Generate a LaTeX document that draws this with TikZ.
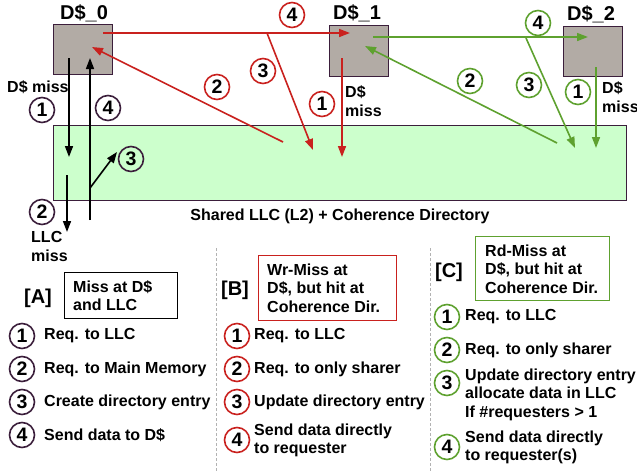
\documentclass[tikz,border=0pt]{standalone}
\usepackage{fontspec}
\setmainfont{Liberation Sans}
\usetikzlibrary{arrows.meta}
\definecolor{cred}{HTML}{C9211E}
\definecolor{cgreen}{HTML}{5EA12F}
\definecolor{cpurple}{HTML}{3B1E3B}
\definecolor{cgray}{HTML}{B2ABA5}
\definecolor{cllc}{HTML}{CCFFCC}
\begin{document}
\begin{tikzpicture}[x=1pt,y=-1pt,
  font=\bfseries\fontsize{16}{18.5}\selectfont,
  cache/.style={draw=cpurple, fill=cgray, line width=1.3pt, inner sep=0pt, anchor=north west, minimum width=59pt, minimum height=50pt},
  big/.style={font=\bfseries\fontsize{20}{22}\selectfont, inner sep=0pt},
  num/.style={circle, draw=#1, line width=1.6pt, minimum size=25pt, inner sep=0pt, font=\bfseries\fontsize{19.5}{19.5}\selectfont},
  arr/.style={line width=1.6pt, -{Triangle[length=11pt,width=8pt]}},
  item/.style={anchor=west, align=left, inner sep=0pt},
  hdr/.style={anchor=west, align=left, inner sep=0pt},
  sep/.style={draw=gray!60, line width=1pt, dash pattern=on 3pt off 2pt},
]
\useasboundingbox (0,0) rectangle (637,472);

% LLC
\node[draw=cpurple, fill=cllc, line width=1.3pt, anchor=north west, minimum width=573pt, minimum height=75pt, inner sep=0pt] (llc) at (53,125) {};
\node[inner sep=0pt] (llctxt) at (340,216) {Shared LLC (L2) + Coherence Directory};

% caches
\node[cache] (d0) at (53,24) {};
\node[cache, minimum height=51pt] (d1) at (329,25) {};
\node[cache] (d2) at (563,26) {};
\node[big] (l0) at (84,13) {D\$\_0};
\node[big] (l1) at (357,13) {D\$\_1};
\node[big] (l2) at (591,14) {D\$\_2};

% ---- black flow
\coordinate (b1s) at (69,58);   \coordinate (b1e) at (69,157);
\coordinate (b2s) at (67,175);  \coordinate (b2e) at (67,232);
\coordinate (b4s) at (90,220);  \coordinate (b4e) at (90,58);
\coordinate (b3s) at (90,188);  \coordinate (b3e) at (117,152);
\draw[arr] (b1s) -- (b1e);
\draw[arr] (b2s) -- (b2e);
\draw[arr] (b4s) -- (b4e);
\draw[arr] (b3s) -- (b3e);
\node[num=cpurple] (bn1) at (42,110) {1};
\node[num=cpurple] (bn4) at (108,108) {4};
\node[num=cpurple] (bn3) at (131,159) {3};
\node[num=cpurple] (bn2) at (42,212) {2};
\node[anchor=west, inner sep=0pt] (m0) at (7,87) {D\$ miss};
\node[item] (m0b) at (31,246.5) {LLC\\miss};

% ---- red flow
\coordinate (r4s) at (103,33);  \coordinate (r4e) at (350,33);
\coordinate (r3s) at (267,33);  \coordinate (r3e) at (313,150);
\coordinate (r2s) at (283,142); \coordinate (r2e) at (92,47);
\coordinate (r1s) at (342,58);  \coordinate (r1e) at (342,157);
\draw[arr, cred] (r4s) -- (r4e);
\draw[arr, cred] (r3s) -- (r3e);
\draw[arr, cred] (r2s) -- (r2e);
\draw[arr, cred] (r1s) -- (r1e);
\node[num=cred] (rn4) at (292,15) {4};
\node[num=cred] (rn3) at (263,71) {3};
\node[num=cred] (rn2) at (217,87) {2};
\node[num=cred] (rn1) at (322,104) {1};
\node[item] (m1) at (345,101) {D\$\\miss};

% ---- green flow
\coordinate (g4s) at (373,37);  \coordinate (g4e) at (588,37);
\coordinate (g3s) at (526,38);  \coordinate (g3e) at (575,148);
\coordinate (g2s) at (557,143); \coordinate (g2e) at (365,46);
\coordinate (g1s) at (596,67);  \coordinate (g1e) at (596,148);
\draw[arr, cgreen] (g4s) -- (g4e);
\draw[arr, cgreen] (g3s) -- (g3e);
\draw[arr, cgreen] (g2s) -- (g2e);
\draw[arr, cgreen] (g1s) -- (g1e);
\node[num=cgreen] (gn4) at (538,23) {4};
\node[num=cgreen] (gn2) at (470,81) {2};
\node[num=cgreen] (gn3) at (529,85) {3};
\node[num=cgreen] (gn1) at (578,92) {1};
\node[item] (m2) at (602,97) {D\$\\miss};

% separators
\draw[sep] (216,248) -- (216,472);
\draw[sep] (430,248) -- (430,472);

% ---- section A
\node[big] (ha) at (38,298) {[A]};
\node[draw=black, line width=1.4pt, anchor=north west, minimum width=113pt, minimum height=46pt, inner sep=0pt] (boxa) at (64,272) {};
\node[hdr] (ta) at (73,295.5) {Miss at D\$\\and LLC};
\node[num=cpurple] (a1) at (22,336) {1};
\node[num=cpurple] (a2) at (22,369) {2};
\node[num=cpurple] (a3) at (22,402) {3};
\node[num=cpurple] (a4) at (22,435) {4};
\node[item] (ta1) at (44,336) {Req. to LLC};
\node[item] (ta2) at (44,369) {Req. to Main Memory};
\node[item] (ta3) at (44,402) {Create directory entry};
\node[item] (ta4) at (44,435) {Send data to D\$};

% ---- section B
\node[big] (hb) at (235,290) {[B]};
\node[draw=cred, line width=1.4pt, anchor=north west, minimum width=138pt, minimum height=65pt, inner sep=0pt] (boxb) at (258,255) {};
\node[hdr] (tb) at (267,288) {Wr-Miss at\\D\$, but hit at\\Coherence Dir.};
\node[num=cred] (bb1) at (237,336) {1};
\node[num=cred] (bb2) at (237,369) {2};
\node[num=cred] (bb3) at (237,402) {3};
\node[num=cred] (bb4) at (237,440) {4};
\node[item] (tb1) at (254,336) {Req. to LLC};
\node[item] (tb2) at (254,369) {Req. to only sharer};
\node[item] (tb3) at (254,402) {Update directory entry};
\node[item] (tb4) at (254,440.5) {Send data directly\\to requester};

% ---- section C
\node[big] (hc) at (449,272) {[C]};
\node[draw=cgreen, line width=1.4pt, anchor=north west, minimum width=134pt, minimum height=64pt, inner sep=0pt] (boxc) at (475,236) {};
\node[hdr] (tc) at (485,269) {Rd-Miss at\\D\$, but hit at\\Coherence Dir.};
\node[num=cgreen] (c1) at (447,317) {1};
\node[num=cgreen] (c2) at (447,350) {2};
\node[num=cgreen] (c3) at (447,383) {3};
\node[num=cgreen] (c4) at (447,447) {4};
\node[item] (tc1) at (465,317) {Req. to LLC};
\node[item] (tc2) at (465,350) {Req. to only sharer};
\node[item] (tc3) at (465,394.5) {Update directory entry\\allocate data in LLC\\If \#requesters > 1};
\node[item] (tc4) at (465,447.5) {Send data directly\\to requester(s)};
\end{tikzpicture}
\end{document}
